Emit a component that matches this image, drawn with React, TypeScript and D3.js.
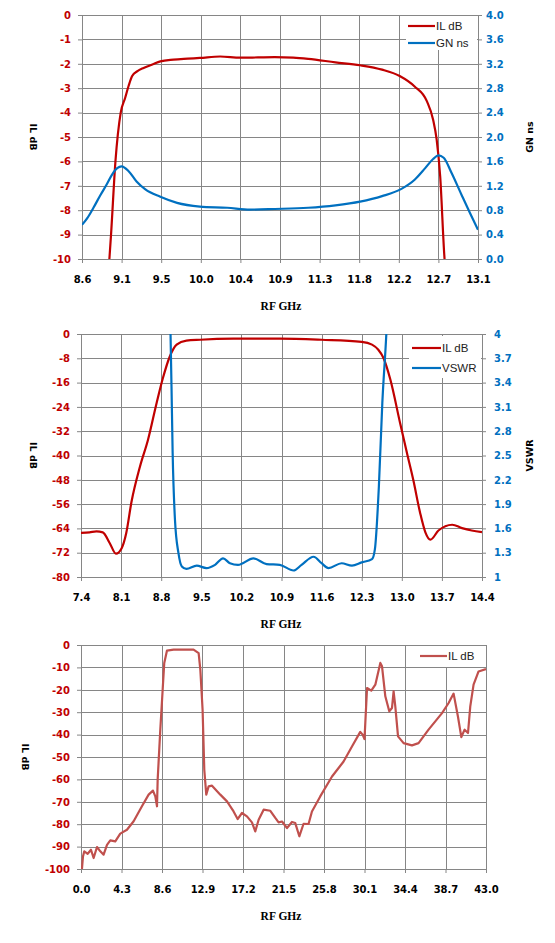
import React, { useRef, useEffect } from 'react';
import * as d3 from 'd3';

// ---- chart 1: IL dB + group delay (GN ns), 8.6 .. 13.1 GHz ----
const ilFreq1 = [8.9, 8.93, 8.98, 9.04, 9.09, 9.13, 9.17, 9.23, 9.3, 9.4, 9.49, 9.64, 9.8, 9.94, 10.17, 10.4, 10.6, 10.79, 11.0, 11.17, 11.48, 11.76, 12.01, 12.21, 12.38, 12.52, 12.59, 12.63, 12.67, 12.72, 12.74];
const ilDb1 = [-10.6, -9.0, -6.0, -4.0, -3.4, -2.9, -2.5, -2.3, -2.17, -2.03, -1.9, -1.83, -1.79, -1.76, -1.7, -1.75, -1.74, -1.73, -1.75, -1.8, -1.94, -2.06, -2.24, -2.5, -2.93, -3.54, -4.29, -5.1, -6.6, -10, -10.8];
const gnFreq1 = [8.6, 8.66, 8.73, 8.81, 8.88, 8.94, 9.0, 9.05, 9.13, 9.22, 9.32, 9.49, 9.68, 9.94, 10.25, 10.51, 10.79, 11.17, 11.48, 11.76, 12.01, 12.23, 12.38, 12.5, 12.59, 12.65, 12.71, 12.8, 12.92, 13.01, 13.1];
const gnNs1 = [0.56, 0.67, 0.84, 1.05, 1.22, 1.38, 1.49, 1.52, 1.44, 1.27, 1.14, 1.02, 0.92, 0.86, 0.84, 0.81, 0.82, 0.84, 0.88, 0.94, 1.03, 1.15, 1.3, 1.49, 1.64, 1.7, 1.66, 1.41, 1.03, 0.75, 0.48];
const xTicks1 = [8.6, 9.05, 9.5, 9.95, 10.4, 10.85, 11.3, 11.75, 12.2, 12.65, 13.1];
const xLabels1 = ['8.6', '9.1', '9.5', '10.0', '10.4', '10.9', '11.3', '11.8', '12.2', '12.7', '13.1'];
const yTicks1 = [0, -1, -2, -3, -4, -5, -6, -7, -8, -9, -10];
const yLabels1 = ['0', '-1', '-2', '-3', '-4', '-5', '-6', '-7', '-8', '-9', '-10'];
const y2Ticks1 = [0, 0.4, 0.8, 1.2, 1.6, 2.0, 2.4, 2.8, 3.2, 3.6, 4.0];
const y2Labels1 = ['0.0', '0.4', '0.8', '1.2', '1.6', '2.0', '2.4', '2.8', '3.2', '3.6', '4.0'];

// ---- chart 2: IL dB + VSWR, 7.4 .. 14.4 GHz ----
const ilFreq2 = [7.4, 7.55, 7.67, 7.78, 7.9, 8.01, 8.11, 8.19, 8.28, 8.43, 8.57, 8.72, 8.83, 8.95, 9.07, 9.24, 9.48, 10.06, 10.87, 11.6, 12.3, 12.48, 12.59, 12.68, 12.8, 12.97, 13.09, 13.2, 13.32, 13.41, 13.5, 13.64, 13.88, 14.05, 14.22, 14.4];
const ilDb2 = [-65.5, -65.3, -65.0, -65.3, -68.8, -72.3, -70.5, -65.5, -55.4, -43.6, -34.8, -22.7, -14.5, -7.4, -3.5, -2.2, -1.9, -1.55, -1.5, -1.9, -2.6, -3.5, -5.2, -7.9, -15.0, -29.3, -39.2, -48.0, -58.9, -65.2, -67.7, -64.7, -62.8, -63.9, -64.7, -65.2];
const vswrFreq2 = [8.955, 8.98, 9.0, 9.04, 9.1, 9.16, 9.24, 9.42, 9.59, 9.74, 9.88, 10.0, 10.14, 10.41, 10.64, 10.87, 11.11, 11.25, 11.46, 11.6, 11.72, 11.95, 12.13, 12.3, 12.48, 12.53, 12.6, 12.66, 12.73, 12.75];
const vswr2 = [4.3, 3.35, 2.53, 1.71, 1.3, 1.13, 1.1, 1.14, 1.11, 1.15, 1.23, 1.17, 1.15, 1.23, 1.16, 1.15, 1.08, 1.15, 1.25, 1.17, 1.11, 1.17, 1.14, 1.18, 1.22, 1.34, 2.12, 3.15, 4.0, 4.3];
const xTicks2 = [7.4, 8.1, 8.8, 9.5, 10.2, 10.9, 11.6, 12.3, 13.0, 13.7, 14.4];
const xLabels2 = ['7.4', '8.1', '8.8', '9.5', '10.2', '10.9', '11.6', '12.3', '13.0', '13.7', '14.4'];
const yTicks2 = [0, -8, -16, -24, -32, -40, -48, -56, -64, -72, -80];
const yLabels2 = ['0', '-8', '-16', '-24', '-32', '-40', '-48', '-56', '-64', '-72', '-80'];
const y2Ticks2 = [1, 1.3, 1.6, 1.9, 2.2, 2.5, 2.8, 3.1, 3.4, 3.7, 4];
const y2Labels2 = ['1', '1.3', '1.6', '1.9', '2.2', '2.5', '2.8', '3.1', '3.4', '3.7', '4'];

// ---- chart 3: wideband IL dB, 0 .. 43 GHz ----
const ilFreq3 = [0.1, 0.21, 0.35, 0.71, 1.06, 1.34, 1.7, 2.05, 2.4, 2.76, 3.11, 3.64, 4.17, 4.88, 5.59, 6.47, 7.18, 7.64, 7.89, 8.07, 8.14, 8.42, 8.67, 8.84, 9.13, 9.83, 11.95, 12.49, 12.67, 12.91, 13.09, 13.3, 13.55, 13.91, 14.79, 15.5, 16.2, 16.63, 17.09, 17.62, 18.15, 18.5, 18.86, 19.39, 20.1, 20.63, 20.98, 21.34, 21.87, 22.4, 22.75, 23.18, 23.63, 24.16, 24.52, 25.4, 26.65, 27.88, 28.77, 29.65, 29.9, 30.1, 30.37, 30.82, 31.25, 31.78, 31.96, 32.31, 32.73, 33.02, 33.19, 33.37, 33.66, 34.25, 35.14, 35.84, 36.9, 38.33, 39.03, 39.56, 40.02, 40.38, 40.73, 41.09, 41.33, 41.68, 42.21, 43.0];
const ilDb3 = [-100, -94.4, -92.1, -93.2, -91.4, -95.1, -90.2, -92.1, -93.6, -89.2, -87.2, -87.7, -84.2, -82.5, -78.7, -72.0, -66.8, -65.0, -67.6, -72.0, -60.1, -37.8, -20, -8, -2.5, -2.1, -2.1, -3.6, -11, -28.9, -55.7, -66.8, -63.1, -62.8, -66.8, -69.8, -74.3, -77.7, -75, -76.5, -79.2, -83.2, -78, -73.5, -74, -77.2, -79.2, -78.8, -81.7, -79, -79.5, -85.4, -79.8, -79.9, -74.3, -67.6, -58.7, -52, -45.3, -38.8, -40, -42, -19.2, -20.4, -17.7, -8.0, -9.5, -22.9, -29.6, -28.1, -20.7, -27.4, -40.8, -43.8, -44.8, -43.8, -37.8, -30.4, -25.9, -21.7, -31.9, -41.1, -37.8, -39.3, -27.4, -17.7, -11.8, -10.7];
const xTicks3 = [0, 4.3, 8.6, 12.9, 17.2, 21.5, 25.8, 30.1, 34.4, 38.7, 43.0];
const xLabels3 = ['0.0', '4.3', '8.6', '12.9', '17.2', '21.5', '25.8', '30.1', '34.4', '38.7', '43.0'];
const yTicks3 = [0, -10, -20, -30, -40, -50, -60, -70, -80, -90, -100];
const yLabels3 = ['0', '-10', '-20', '-30', '-40', '-50', '-60', '-70', '-80', '-90', '-100'];

const RED = '#C00000';
const BLUE = '#0070C0';
const RED3 = '#C0504D';
const GRID = '#868686';
const FONT = 'DejaVu Sans';

interface Series {
	freq: number[];
	vals: number[];
	color: string;
	right: boolean;
	name: string;
	curve: d3.CurveFactory;
}

interface ChartCfg {
	id: string;
	box: { left: number; right: number; top: number; bottom: number };
	xDomain: [number, number];
	xTicks: number[];
	xLabels: string[];
	yDomain: [number, number];
	yTicks: number[];
	yLabels: string[];
	y2Domain?: [number, number];
	y2Ticks?: number[];
	y2Labels?: string[];
	y2Title?: string;
	y2Pad?: number;
	leftTitleX: number;
	rightTitleX?: number;
	series: Series[];
	legend: { x: number; y: number; w: number; h: number; l1: number; l2: number; rows: number[] };
}

function drawChart(svg: d3.Selection<SVGSVGElement, unknown, null, undefined>, cfg: ChartCfg) {
	const { left, right, top, bottom } = cfg.box;
	const x = d3.scaleLinear().domain(cfg.xDomain).range([left, right]);
	const y = d3.scaleLinear().domain(cfg.yDomain).range([bottom, top]);
	const y2 = cfg.y2Domain ? d3.scaleLinear().domain(cfg.y2Domain).range([bottom, top]) : null;

	const g = svg.append('g');

	// grid
	g.append('g')
		.selectAll('line')
		.data(cfg.yTicks)
		.join('line')
		.attr('x1', left)
		.attr('x2', right)
		.attr('y1', (d) => Math.round(y(d)) + 0.5)
		.attr('y2', (d) => Math.round(y(d)) + 0.5)
		.attr('stroke', GRID);
	g.append('g')
		.selectAll('line')
		.data(cfg.xTicks)
		.join('line')
		.attr('x1', (d) => Math.round(x(d)) + 0.5)
		.attr('x2', (d) => Math.round(x(d)) + 0.5)
		.attr('y1', top)
		.attr('y2', bottom)
		.attr('stroke', GRID);

	const styleAxis = (a: d3.Selection<SVGGElement, unknown, null, undefined>, color: string) => {
		a.attr('font-family', FONT).attr('font-size', 10).attr('font-weight', 'bold');
		a.select('.domain').attr('stroke', GRID);
		a.selectAll('.tick line').attr('stroke', GRID);
		a.selectAll('.tick text').attr('fill', color);
	};

	const ax = g
		.append('g')
		.attr('transform', `translate(0,${bottom})`)
		.call(
			d3
				.axisBottom(x)
				.tickValues(cfg.xTicks)
				.tickFormat((_d, i) => cfg.xLabels[i])
				.tickSize(4)
				.tickSizeOuter(0)
				.tickPadding(13)
		);
	styleAxis(ax, '#000');

	const ay = g
		.append('g')
		.attr('transform', `translate(${left},0)`)
		.call(
			d3
				.axisLeft(y)
				.tickValues(cfg.yTicks)
				.tickFormat((_d, i) => cfg.yLabels[i])
				.tickSize(4)
				.tickSizeOuter(0)
				.tickPadding(7)
		);
	styleAxis(ay, RED);

	if (y2 && cfg.y2Ticks && cfg.y2Labels) {
		const ay2 = g
			.append('g')
			.attr('transform', `translate(${right},0)`)
			.call(
				d3
					.axisRight(y2)
					.tickValues(cfg.y2Ticks)
					.tickFormat((_d, i) => cfg.y2Labels![i])
					.tickSize(4)
					.tickSizeOuter(0)
					.tickPadding(cfg.y2Pad ?? 4)
			);
		styleAxis(ay2, BLUE);
	} else {
		g.append('line')
			.attr('x1', right + 0.5)
			.attr('x2', right + 0.5)
			.attr('y1', top)
			.attr('y2', bottom)
			.attr('stroke', GRID);
	}

	// series, clipped to the plot box
	svg.append('clipPath')
		.attr('id', `clip-${cfg.id}`)
		.append('rect')
		.attr('x', left)
		.attr('y', top)
		.attr('width', right - left)
		.attr('height', bottom - top);

	const plot = g.append('g').attr('clip-path', `url(#clip-${cfg.id})`);
	cfg.series.forEach((s) => {
		const sy = s.right && y2 ? y2 : y;
		const line = d3
			.line<number>()
			.x((_v, i) => x(s.freq[i]))
			.y((v) => sy(v))
			.curve(s.curve);
		plot.append('path')
			.attr('d', line(s.vals))
			.attr('fill', 'none')
			.attr('stroke', s.color)
			.attr('stroke-width', 2.2)
			.attr('stroke-linejoin', 'round');
	});

	// legend
	const lg = cfg.legend;
	g.append('rect').attr('x', lg.x).attr('y', lg.y).attr('width', lg.w).attr('height', lg.h).attr('fill', '#fff');
	cfg.series.forEach((s, i) => {
		g.append('line')
			.attr('x1', lg.l1)
			.attr('x2', lg.l2)
			.attr('y1', lg.rows[i])
			.attr('y2', lg.rows[i])
			.attr('stroke', s.color)
			.attr('stroke-width', 2.2);
		g.append('text')
			.attr('x', lg.l2 + 1)
			.attr('y', lg.rows[i])
			.attr('dy', '0.35em')
			.attr('font-family', 'Liberation Sans')
			.attr('font-size', 11.5)
			.attr('fill', '#222')
			.text(s.name);
	});

	// titles
	const midY = (top + bottom) / 2;
	g.append('text')
		.attr('transform', `translate(${cfg.leftTitleX},${midY}) rotate(90)`)
		.attr('text-anchor', 'middle')
		.attr('dy', '0.35em')
		.attr('font-family', FONT)
		.attr('font-weight', 'bold')
		.attr('font-size', 9.5)
		.text('IL dB');
	if (cfg.y2Title && cfg.rightTitleX) {
		g.append('text')
			.attr('transform', `translate(${cfg.rightTitleX},${midY}) rotate(-90)`)
			.attr('text-anchor', 'middle')
			.attr('dy', '0.35em')
			.attr('font-family', FONT)
			.attr('font-weight', 'bold')
			.attr('font-size', 9.5)
			.text(cfg.y2Title);
	}
	g.append('text')
		.attr('x', 281)
		.attr('y', bottom + 51)
		.attr('text-anchor', 'middle')
		.attr('font-family', 'Liberation Serif')
		.attr('font-weight', 'bold')
		.attr('font-size', 11.5)
		.text('RF  GHz');
}

const charts: ChartCfg[] = [
	{
		id: 'c1',
		box: { left: 82, right: 478, top: 15, bottom: 259 },
		xDomain: [8.6, 13.1],
		xTicks: xTicks1,
		xLabels: xLabels1,
		yDomain: [-10, 0],
		yTicks: yTicks1,
		yLabels: yLabels1,
		y2Domain: [0, 4],
		y2Ticks: y2Ticks1,
		y2Labels: y2Labels1,
		y2Title: 'GN ns',
		y2Pad: 4,
		leftTitleX: 33,
		rightTitleX: 530,
		series: [
			{ freq: ilFreq1, vals: ilDb1, color: RED, right: false, name: 'IL dB', curve: d3.curveMonotoneX },
			{ freq: gnFreq1, vals: gnNs1, color: BLUE, right: true, name: 'GN ns', curve: d3.curveMonotoneX },
		],
		legend: { x: 406, y: 16, w: 71, h: 34, l1: 408, l2: 435, rows: [26, 43] },
	},
	{
		id: 'c2',
		box: { left: 81, right: 482, top: 334, bottom: 577 },
		xDomain: [7.4, 14.4],
		xTicks: xTicks2,
		xLabels: xLabels2,
		yDomain: [-80, 0],
		yTicks: yTicks2,
		yLabels: yLabels2,
		y2Domain: [1, 4],
		y2Ticks: y2Ticks2,
		y2Labels: y2Labels2,
		y2Title: 'VSWR',
		y2Pad: 8,
		leftTitleX: 33,
		rightTitleX: 530,
		series: [
			{ freq: ilFreq2, vals: ilDb2, color: RED, right: false, name: 'IL dB', curve: d3.curveMonotoneX },
			{ freq: vswrFreq2, vals: vswr2, color: BLUE, right: true, name: 'VSWR', curve: d3.curveMonotoneX },
		],
		legend: { x: 409, y: 336, w: 72, h: 42, l1: 412, l2: 441, rows: [348, 368] },
	},
	{
		id: 'c3',
		box: { left: 81, right: 486, top: 645, bottom: 869 },
		xDomain: [0, 43],
		xTicks: xTicks3,
		xLabels: xLabels3,
		yDomain: [-100, 0],
		yTicks: yTicks3,
		yLabels: yLabels3,
		leftTitleX: 25,
		series: [{ freq: ilFreq3, vals: ilDb3, color: RED3, right: false, name: 'IL dB', curve: d3.curveLinear }],
		legend: { x: 418, y: 646, w: 66, h: 21, l1: 420, l2: 447, rows: [656] },
	},
];

const App: React.FC = () => {
	const svgRef = useRef<SVGSVGElement | null>(null);

	useEffect(() => {
		if (!svgRef.current) return;
		const svg = d3.select(svgRef.current);
		svg.selectAll('*').remove();
		charts.forEach((c) => drawChart(svg, c));
	}, []);

	return (
		<svg
			ref={svgRef}
			width={555}
			height={943}
			style={{ position: 'absolute', left: 0, top: 0, background: '#fff' }}
		/>
	);
};

export default App;
